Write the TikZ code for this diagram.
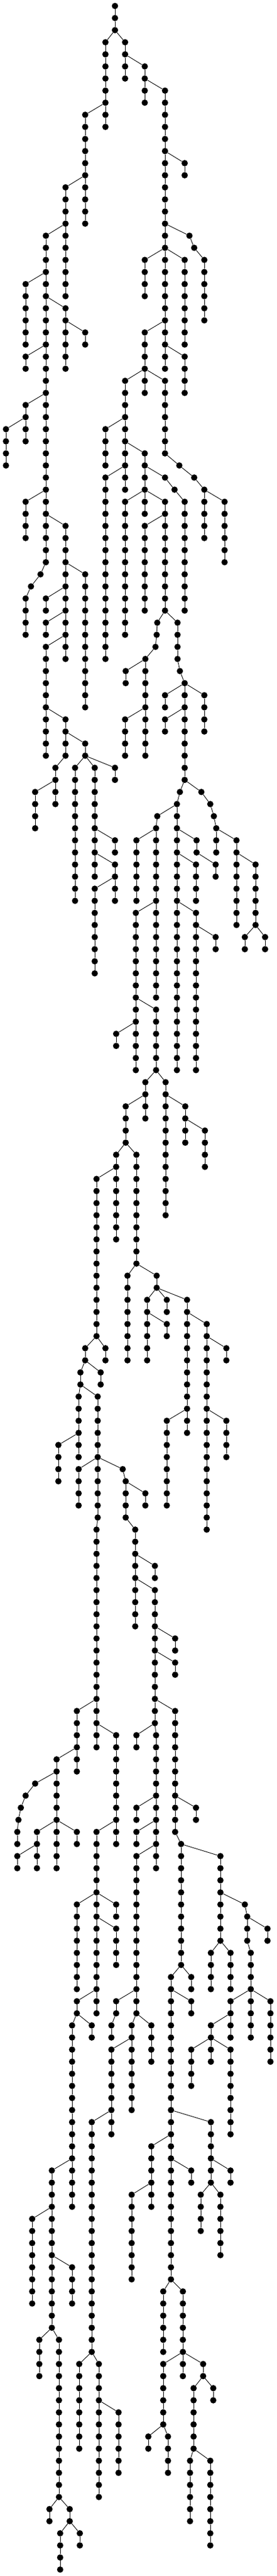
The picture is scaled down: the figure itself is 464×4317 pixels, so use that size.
\documentclass[tikz,border=0pt]{standalone}
\def\chains{193/0/2/0,
177/3/10/193,
210/3/6/193,
243/5/8/210,
277/7/30/243,
310/13/14/277,
143/9/18/177,
110/15/24/143,
318/19/19/277,
326/20/20/318,
343/21/26/326,
243/21/24/277,
310/21/28/277,
243/27/30/277,
310/29/32/277,
243/31/32/243,
210/31/40/243,
277/31/37/243,
177/35/38/210,
77/19/46/110,
43/23/28/77,
110/25/30/77,
143/27/28/110,
43/29/30/77,
43/33/36/77,
10/35/38/43,
68/47/47/77,
52/48/48/68,
43/49/52/52,
43/41/44/77,
110/43/54/77,
143/47/58/110,
77/49/50/110,
77/51/52/110,
77/53/62/110,
177/39/54/210,
243/37/42/210,
277/39/39/243,
293/40/40/277,
310/41/50/293,
210/41/52/243,
277/41/50/243,
243/43/50/277,
264/51/51/277,
298/51/54/277,
263/52/52/264,
301/38/38/277,
326/39/39/301,
343/40/44/326,
377/41/46/343,
261/53/53/263,
244/54/62/261,
211/55/56/244,
210/59/62/244,
302/55/55/298,
310/56/64/302,
277/57/58/310,
343/57/60/310,
277/59/60/310,
110/59/62/77,
143/61/62/110,
93/63/66/110,
59/65/68/93,
126/63/74/143,
159/63/72/143,
193/63/64/143,
193/69/70/159,
193/71/74/159,
302/65/65/310,
297/66/88/302,
264/67/67/297,
262/68/82/264,
229/69/74/262,
330/69/70/297,
338/65/65/310,
353/66/66/338,
359/67/67/353,
363/68/70/359,
397/69/76/363,
329/71/74/297,
362/71/72/330,
429/71/76/397,
159/73/80/193,
228/75/88/262,
262/83/88/228,
195/85/86/228,
329/75/88/297,
362/77/78/329,
411/77/78/429,
445/77/78/429,
244/89/92/262,
278/89/100/262,
211/91/94/244,
195/95/102/211,
229/95/104/211,
162/97/110/195,
214/105/112/229,
263/105/106/229,
311/91/94/278,
344/93/96/311,
143/111/112/162,
177/111/112/162,
135/113/114/143,
169/113/114/143,
132/115/120/135,
164/115/120/135,
98/119/122/132,
132/121/124/164,
164/121/125/164,
206/121/121/164,
211/122/125/206,
244/123/124/211,
247/107/112/263,
280/107/108/263,
314/107/118/263,
280/109/110/247,
347/109/126/314,
380/111/112/347,
280/117/124/314,
380/117/120/347,
162/126/144/164,
227/126/134/211,
260/129/130/227,
260/131/142/227,
294/135/136/260,
294/137/138/260,
294/141/151/260,
129/141/146/162,
95/145/154/129,
59/147/147/95,
43/148/148/59,
35/149/149/43,
31/150/150/35,
29/151/152/31,
62/151/154/95,
29/153/154/62,
129/151/152/95,
195/143/152/162,
162/151/166/195,
129/157/164/162,
195/157/158/162,
195/159/162/162,
229/143/144/260,
262/143/154/260,
229/149/150/262,
229/151/152/262,
229/153/166/262,
329/149/150/294,
304/152/162/294,
370/153/160/304,
411/157/157/370,
415/158/160/411,
449/159/160/415,
129/165/166/162,
154/167/168/129,
121/167/182/129,
195/165/166/229,
187/167/168/195,
221/167/174/229,
254/167/170/229,
187/169/176/221,
154/175/194/187,
321/163/164/304,
287/163/188/304,
321/165/166/287,
354/175/180/287,
254/177/182/287,
354/161/164/370,
387/161/164/370,
421/161/168/415,
387/165/168/421,
454/165/170/421,
354/167/170/387,
321/169/172/354,
387/169/176/354,
87/179/192/121,
54/183/190/87,
121/187/190/87,
66/193/196/87,
99/193/206/87,
221/181/188/254,
321/179/180/287,
274/189/194/287,
307/189/194/287,
387/179/180/354,
337/181/184/354,
370/181/186/354,
133/195/202/154,
166/195/206/154,
274/195/200/307,
307/195/196/307,
341/195/196/307,
83/207/208/99,
117/207/208/99,
101/209/212/117,
134/209/210/117,
199/199/204/166,
249/201/202/274,
282/201/204/274,
358/197/198/341,
325/197/202/341,
319/203/208/325,
353/203/210/325}
\tikzset{
  dot/.style={circle,fill=black,draw=none,inner sep=0pt,minimum size=10.6pt},
  edge/.style={line width=0.9pt,draw=black}
}
\begin{document}
\begin{tikzpicture}[x=1pt,y=-1pt]
\useasboundingbox (0,0) rectangle (464,4317);
\foreach \x/\a/\b/\p in \chains {
  \foreach \l in {\a,...,\b} {
    \node[dot] (n\x-\l) at (\x,{10+20.265*\l}) {};
  }
}
\foreach \x/\a/\b/\p in \chains {
  \ifnum\p>0
    \pgfmathtruncatemacro\pl{\a-1}
    \draw[edge] (n\p-\pl) -- (n\x-\a);
  \fi
  \ifnum\a<\b
    \pgfmathtruncatemacro\aa{\a+1}
    \foreach \l in {\aa,...,\b} {
      \pgfmathtruncatemacro\lm{\l-1}
      \draw[edge] (n\x-\lm) -- (n\x-\l);
    }
  \fi
}
\end{tikzpicture}
\end{document}
